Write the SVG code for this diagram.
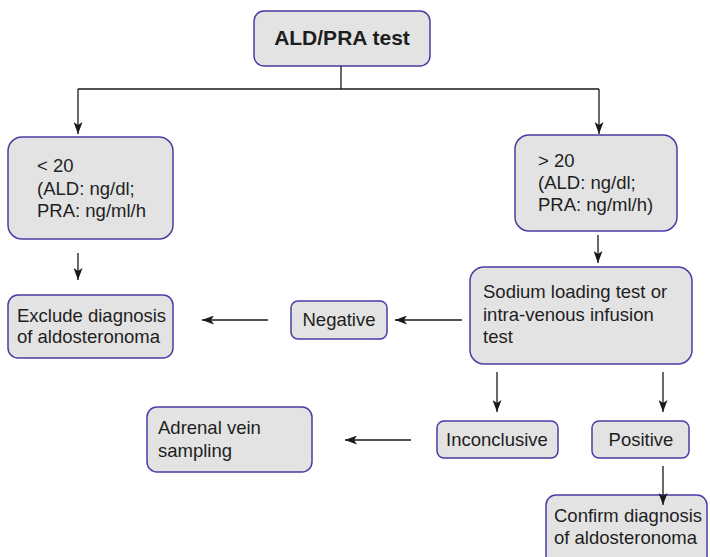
<svg xmlns="http://www.w3.org/2000/svg" width="710" height="557" viewBox="0 0 710 557">
<style>
.box{fill:#e3e3e3;stroke:#4b3da6;stroke-width:1.5}
.t{font-family:"Liberation Sans",Arial,sans-serif;font-size:18.5px;fill:#1e1e1e}
.c{text-anchor:middle}
.b{font-weight:bold;font-size:21px}
.ln{stroke:#1a1a1a;stroke-width:1.3;fill:none}
.ar{marker-end:url(#ah)}
</style>
<defs>
<marker id="ah" markerUnits="userSpaceOnUse" markerWidth="12" markerHeight="9" refX="12" refY="4.5" orient="auto">
<path d="M0,0 L12,4.5 L0,9 L3,4.5 z" fill="#1a1a1a"/>
</marker>
</defs>
<rect width="710" height="557" fill="#ffffff"/>
<g id="n-top">
<rect class="box" x="254" y="11" width="176" height="55" rx="10"/>
<text class="t c b" x="342" y="45">ALD/PRA test</text>
</g>
<g id="n-low">
<rect class="box" x="8" y="137" width="165" height="102" rx="14"/>
<text class="t" x="37" y="172">&lt; 20</text>
<text class="t" x="37" y="195">(ALD: ng/dl;</text>
<text class="t" x="37" y="217">PRA: ng/ml/h</text>
</g>
<g id="n-high">
<rect class="box" x="515" y="135" width="162" height="96" rx="14"/>
<text class="t" x="538" y="167">&gt; 20</text>
<text class="t" x="538" y="189">(ALD: ng/dl;</text>
<text class="t" x="538" y="211">PRA: ng/ml/h)</text>
</g>
<g id="n-sodium">
<rect class="box" x="470" y="267" width="222" height="97" rx="14"/>
<text class="t" x="483" y="298">Sodium loading test or</text>
<text class="t" x="483" y="321">intra-venous infusion</text>
<text class="t" x="483" y="343">test</text>
</g>
<g id="n-negative">
<rect class="box" x="291" y="301" width="96" height="38" rx="7"/>
<text class="t c" x="339" y="326">Negative</text>
</g>
<g id="n-exclude">
<rect class="box" x="8" y="295" width="165" height="63" rx="10"/>
<text class="t" x="17" y="322">Exclude diagnosis</text>
<text class="t" x="17" y="343">of aldosteronoma</text>
</g>
<g id="n-adrenal">
<rect class="box" x="147" y="407" width="165" height="65" rx="10"/>
<text class="t" x="158" y="434">Adrenal vein</text>
<text class="t" x="158" y="457">sampling</text>
</g>
<g id="n-inconclusive">
<rect class="box" x="437" y="421" width="121" height="37" rx="7"/>
<text class="t c" x="497" y="446">Inconclusive</text>
</g>
<g id="n-positive">
<rect class="box" x="592" y="421" width="97" height="37" rx="7"/>
<text class="t c" x="641" y="446">Positive</text>
</g>
<g id="n-confirm">
<rect class="box" x="546" y="495" width="161" height="75" rx="10"/>
<text class="t" x="554" y="522">Confirm diagnosis</text>
<text class="t" x="554" y="544">of aldosteronoma</text>
</g>
<g id="connectors">
<path class="ln" d="M341,66 V89 M78,89 H599"/>
<path class="ln ar" d="M78,89 V134"/>
<path class="ln ar" d="M599,89 V134"/>
<path class="ln ar" d="M78,253 V280"/>
<path class="ln ar" d="M598,235 V263"/>
<path class="ln ar" d="M462,320 H395"/>
<path class="ln ar" d="M268,320 H202"/>
<path class="ln ar" d="M497,372 V412"/>
<path class="ln ar" d="M663,372 V412"/>
<path class="ln ar" d="M411,440 H345"/>
<path class="ln ar" d="M663,466 V505"/>
</g>
</svg>
